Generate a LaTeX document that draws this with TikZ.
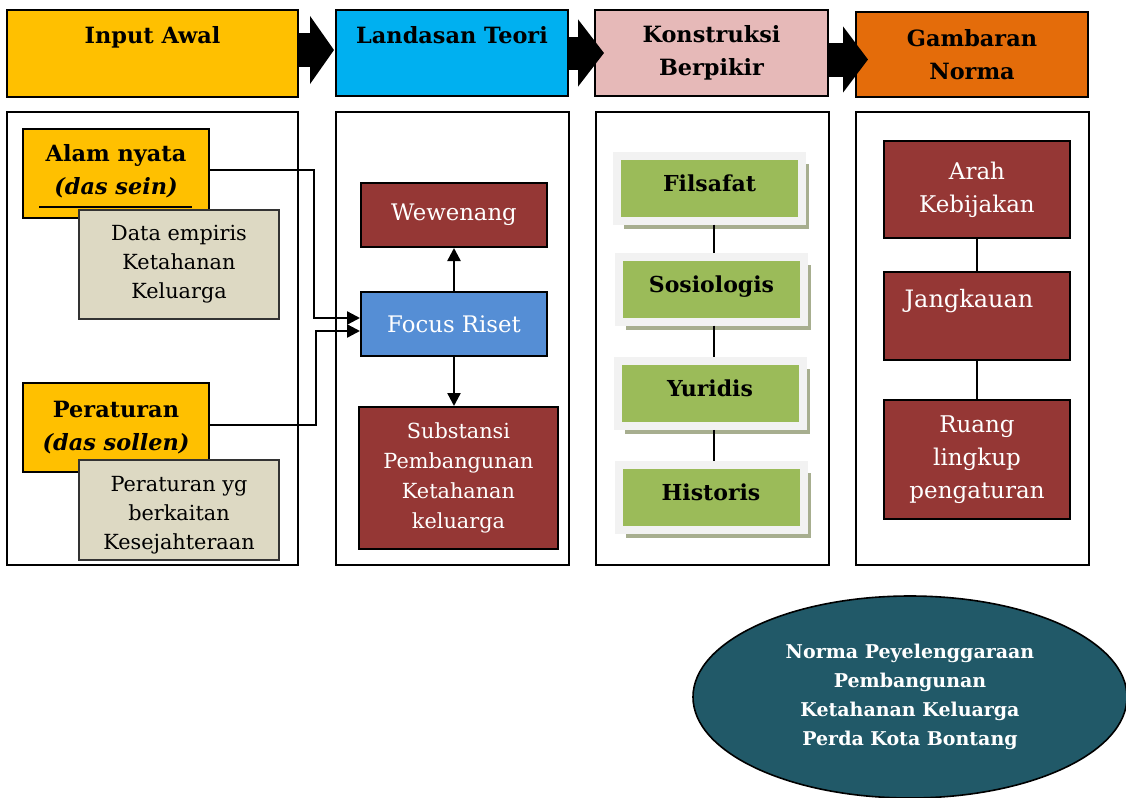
\documentclass[tikz,border=0pt]{standalone}
\usepackage{fontspec}
\setmainfont{DejaVu Serif}
\usetikzlibrary{arrows.meta,positioning,shapes.geometric,shadows,backgrounds}

\definecolor{kuning}{HTML}{FFC000}
\definecolor{biru}{HTML}{00B0F0}
\definecolor{merahmuda}{HTML}{E6B9B8}
\definecolor{oranye}{HTML}{E46C0A}
\definecolor{merah}{HTML}{953735}
\definecolor{birumuda}{HTML}{558ED5}
\definecolor{krem}{HTML}{DDD9C3}
\definecolor{hijau}{HTML}{9BBB59}
\definecolor{abu}{HTML}{F2F2F2}
\definecolor{bayang}{HTML}{A7AE8F}
\definecolor{tosca}{HTML}{215968}

\begin{document}
\begin{tikzpicture}[
    x = 0.5pt, y = -0.5pt, % one unit = one pixel of the sketch
    > = {Triangle[length=6.5pt,width=6.5pt]}, % arrow head style
    semithick % line style
    ]

    \tikzset{
    kotakjudul/.style = {draw = black, line width = 1pt, inner sep = 0pt, align = center,
        font = \bfseries\fontsize{11.2}{16.5}\selectfont},
    panel/.style = {draw = black, line width = 0.8pt, minimum width = 116.5pt, minimum height = 226.5pt},
    kotakinput/.style = {draw = black, line width = 1pt, fill = kuning, minimum width = 93pt,
        minimum height = 44.5pt, align = center, font = \bfseries\fontsize{11.2}{16.5}\selectfont},
    kotakdata/.style = {draw = black!80, line width = 0.8pt, fill = krem, minimum width = 100pt,
        align = center, font = \fontsize{10.4}{14.5}\selectfont},
    kotakmerah/.style = {draw = black, line width = 1pt, fill = merah, text = white,
        minimum width = 93pt, align = center, font = \fontsize{10.4}{15}\selectfont},
    kotakhijau/.style = {draw = abu, line width = 4pt, fill = hijau, minimum width = 92.5pt,
        minimum height = 32.5pt, inner sep = 0pt, text height = 7.8pt, text depth = 4.8pt,
        font = \bfseries\fontsize{11}{14}\selectfont,
        drop shadow = {shadow xshift = 3.5pt, shadow yshift = -4pt, fill = bayang, opacity = 1}},
    garis/.style = {line width = 1.2pt},
    tipis/.style = {line width = 0.8pt},
    panahblok/.style n args = {3}{line width = #1, -{Triangle[length = #3, width = #2]}}
    }

    \path[use as bounding box, fill = white] (0,0) rectangle (1126,798);

    % judul kolom
    \node[kotakjudul, fill = kuning, minimum width = 145.5pt, text height = 16.5pt, text depth = 27pt] (input) at (152.5,53.5) {Input Awal};
    \node[kotakjudul, fill = biru, minimum width = 116pt, text height = 16.5pt, text depth = 26.5pt] (teori) at (452,53) {Landasan Teori};
    \node[kotakjudul, fill = merahmuda, minimum width = 116.5pt, minimum height = 43pt] (konstruksi) at (711.5,53) {Konstruksi\\Berpikir};
    \node[kotakjudul, fill = oranye, minimum width = 116pt, minimum height = 42.5pt] (gambaran) at (972,54.5) {Gambaran\\Norma};

    \draw[panahblok = {17pt}{33.5pt}{12pt}] ([yshift = 1.75pt]input.east) -- ([xshift = -0.5pt, yshift = 1.5pt]teori.west);
    \draw[panahblok = {16.5pt}{33pt}{13pt}] (teori.east) -- ([xshift = 5pt]konstruksi.west);
    \draw[panahblok = {17pt}{32.5pt}{12.5pt}] ([yshift = -3.25pt]konstruksi.east) -- ([xshift = 6.5pt, yshift = -2.5pt]gambaran.west);

    % panel
    \node[panel, minimum width = 145.5pt] (p1) at (152.5,338.5) {};
    \node[panel] (p2) at (452.5,338.5) {};
    \node[panel] (p3) at (712.5,338.5) {};
    \node[panel] (p4) at (972.5,338.5) {};

    % input awal
    \node[kotakinput, inner ysep = 0pt] (alam) at (116,173.5) {\rule{0pt}{11pt}Alam nyata\\\itshape (das sein)\\[-10pt]\rule{76.5pt}{1pt}};
    \node[kotakdata, minimum height = 54.5pt] (empiris) at (179,264.5) {Data empiris\\Ketahanan\\Keluarga};
    \node[kotakinput] (peraturan) at (116,427.5) {Peraturan\\\itshape (das sollen)};
    \node[kotakdata, minimum height = 50pt, inner ysep = 0pt] (kaitan) at (179,510) {\rule{0pt}{12.6pt}Peraturan yg\\berkaitan\\Kesejahteraan};

    % landasan teori
    \node[kotakmerah, minimum height = 32pt, font = \fontsize{11.4}{15}\selectfont] (wewenang) at (454,215) {Wewenang};
    \node[kotakmerah, fill = birumuda, minimum height = 32pt, font = \fontsize{11.4}{15}\selectfont] (fokus) at (454,324) {Focus Riset};
    \node[kotakmerah, minimum width = 99.5pt, minimum height = 71pt] (substansi) at (458.5,478) {Substansi\\Pembangunan\\Ketahanan\\keluarga};

    \draw[garis, ->] ([yshift = 1.75pt]alam.east) -- ++(104,0) |- ([yshift = 3pt]fokus.west);
    \draw[garis, ->] ([yshift = 1.25pt]peraturan.east) -- ++(106,0) |- ([yshift = -3.5pt]fokus.west);
    \draw[garis, ->] (fokus.north) -- (wewenang.south);
    \draw[garis, ->] (fokus.south) -- (fokus.south |- substansi.north);

    % konstruksi berpikir
    \node[kotakhijau] (filsafat) at (709.5,188) {Filsafat};
    \node[kotakhijau] (sosiologis) at (711.5,289) {Sosiologis};
    \node[kotakhijau] (yuridis) at (710,393.3) {Yuridis};
    \node[kotakhijau] (historis) at (711,497) {Historis};

    \draw[tipis] ([xshift = 2.25pt]filsafat.south) -- ([xshift = 2.25pt]filsafat.south |- sosiologis.north);
    \draw[tipis] ([xshift = 1.25pt]sosiologis.south) -- ([xshift = 1.25pt]sosiologis.south |- yuridis.north);
    \draw[tipis] ([xshift = 2pt]yuridis.south) -- ([xshift = 2pt]yuridis.south |- historis.north);

    % gambaran norma
    \node[kotakmerah, font = \fontsize{11.5}{16.5}\selectfont, minimum height = 48.5pt] (arah) at (977,189.4) {Arah\\Kebijakan};
    \node[kotakmerah, font = \fontsize{12}{16.5}\selectfont, inner ysep = 0pt, text height = 18pt, text depth = 26pt] (jangkauan) at (977,315.5) {Jangkauan\kern8pt};
    \node[kotakmerah, font = \fontsize{11.5}{16.5}\selectfont, minimum height = 59.4pt] (ruang) at (977,459.4) {Ruang\\lingkup\\pengaturan};

    \draw[tipis] (arah.south) -- (jangkauan.north);
    \draw[tipis] (jangkauan.south) -- (jangkauan.south |- ruang.north);

    \node[ellipse, draw = black, line width = 0.8pt, fill = tosca, minimum width = 217pt, minimum height = 101pt,
        text = white, align = center, font = \bfseries\fontsize{9.5}{14.5}\selectfont] (norma) at (910,697)
        {Norma Peyelenggaraan\\Pembangunan\\Ketahanan Keluarga\\Perda Kota Bontang};
    \begin{scope}[on background layer]
    \draw[tipis] ([xshift = 4.75pt]p4.south) -- ([xshift = 4.75pt]p4.south |- norma.center);
    \end{scope}
\end{tikzpicture}
\end{document}
